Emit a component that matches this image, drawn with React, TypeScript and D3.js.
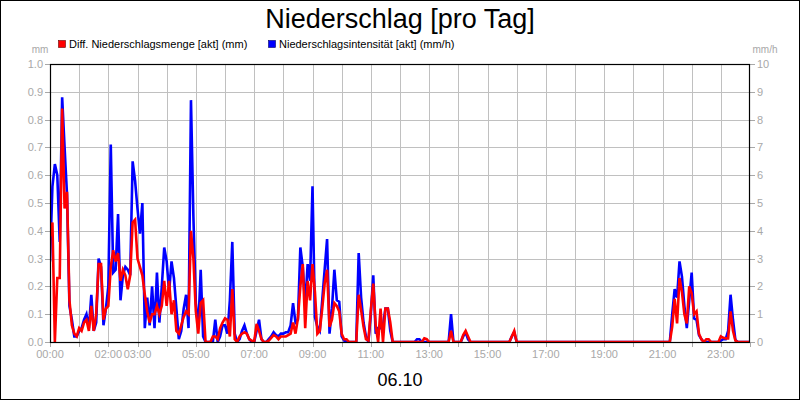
import React from "react";
import * as d3 from "d3";

// 5-minute steps from 00:00 to 24:00, one row per hour
const rainIntensity: number[] = [
  2.9, 5.6, 6.4, 6.0, 3.6, 8.8, 7.0, 5.3, 1.3, 0.8, 0.2, 0.2,
  0.4, 0.5, 0.8, 1.0, 0.5, 1.7, 0.4, 0.7, 3.0, 2.7, 0.6, 1.2,
  2.0, 7.1, 2.5, 2.6, 4.6, 1.5, 2.4, 2.7, 2.6, 2.4, 6.5, 5.8,
  4.8, 3.9, 5.0, 0.5, 1.6, 0.6, 2.0, 0.5, 2.5, 0.7, 2.0, 3.4,
  2.9, 1.8, 2.9, 2.3, 1.2, 0.1, 0.4, 1.2, 1.7, 0.5, 8.7, 4.5,
  1.4, 0.5, 2.6, 0.2, 0, 0, 0, 0, 0.8, 0, 0.2, 0.6,
  0.6, 0.3, 1.5, 3.6, 0.3, 0, 0.1, 0.4, 0.6, 0.3, 0.1, 0,
  0, 0.4, 0.8, 0.1, 0, 0, 0.1, 0.2, 0.35, 0.25, 0.2, 0.3,
  0.3, 0.35, 0.35, 0.6, 1.4, 0.7, 0.8, 3.4, 2.7, 1.3, 2.8, 2.2,
  5.6, 0.9, 0.55, 0.4, 1.5, 2.6, 3.7, 0.3, 1.2, 2.6, 1.5, 1.45,
  0.2, 0.05, 0, 0, 0, 0, 0, 3.2, 1.6, 0.7, 0.2, 0,
  1.0, 2.4, 0.3, 0.5, 0.5, 0.6, 1.2, 1.2, 0.4, 0, 0, 0,
  0, 0, 0, 0, 0, 0, 0, 0.1, 0.1, 0, 0, 0,
  0, 0, 0, 0, 0, 0, 0, 0, 0, 1.0, 0, 0,
  0, 0, 0.2, 0.35, 0.1, 0, 0, 0, 0, 0, 0, 0,
  0, 0, 0, 0, 0, 0, 0, 0, 0, 0, 0.2, 0.35,
  0, 0, 0, 0, 0, 0, 0, 0, 0, 0, 0, 0,
  0, 0, 0, 0, 0, 0, 0, 0, 0, 0, 0, 0,
  0, 0, 0, 0, 0, 0, 0, 0, 0, 0, 0, 0,
  0, 0, 0, 0, 0, 0, 0, 0, 0, 0, 0, 0,
  0, 0, 0, 0, 0, 0, 0, 0, 0, 0, 0, 0,
  0, 0, 0, 0, 1.0, 1.9, 1.6, 2.9, 2.35, 1.3, 0.5, 1.5,
  2.5, 0.85, 0.8, 0.25, 0.1, 0, 0, 0, 0, 0, 0, 0,
  0.05, 0.1, 0.1, 0.4, 1.7, 0.8, 0.07, 0, 0, 0, 0, 0,
  0,
];

const rainAmount: number[] = [
  0.38, 0.43, 0.0, 0.23, 0.23, 0.84, 0.48, 0.54, 0.15, 0.06, 0.03, 0.02,
  0.05, 0.04, 0.07, 0.08, 0.04, 0.13, 0.04, 0.1, 0.28, 0.28, 0.08, 0.12,
  0.13, 0.27, 0.33, 0.29, 0.32, 0.22, 0.26, 0.24, 0.19, 0.24, 0.43, 0.44,
  0.3, 0.27, 0.24, 0.17, 0.11, 0.07, 0.1, 0.1, 0.13, 0.1, 0.13, 0.22,
  0.13, 0.22, 0.1, 0.15, 0.04, 0.03, 0.06, 0.09, 0.11, 0.1, 0.4, 0.3,
  0.11, 0.03, 0.14, 0.15, 0, 0, 0, 0.02, 0.02, 0.01, 0.05, 0.07,
  0.085, 0.08, 0.02, 0.19, 0.01, 0, 0.02, 0.03, 0.035, 0.03, 0.01, 0.005,
  0, 0.065, 0.04, 0.01, 0, 0, 0.005, 0.015, 0.025, 0.02, 0.01, 0.02,
  0.02, 0.02, 0.025, 0.03, 0.07, 0.03, 0.085, 0.2, 0.28, 0.05, 0.22, 0.15,
  0.28, 0.18, 0.03, 0.04, 0.12, 0.21, 0.26, 0.055, 0.08, 0.14, 0.13, 0.11,
  0.03, 0.01, 0.01, 0, 0, 0, 0, 0.17, 0.115, 0.055, 0.01, 0.005,
  0.115, 0.21, 0.06, 0.0, 0.12, 0.0, 0.12, 0.12, 0.07, 0, 0, 0,
  0, 0, 0, 0, 0, 0, 0, 0, 0, 0, 0.013, 0.01,
  0, 0, 0, 0, 0, 0, 0, 0, 0, 0.04, 0, 0,
  0, 0, 0.025, 0.04, 0.02, 0, 0, 0, 0, 0, 0, 0,
  0, 0, 0, 0, 0, 0, 0, 0, 0, 0, 0.02, 0.04,
  0, 0, 0, 0, 0, 0, 0, 0, 0, 0, 0, 0,
  0, 0, 0, 0, 0, 0, 0, 0, 0, 0, 0, 0,
  0, 0, 0, 0, 0, 0, 0, 0, 0, 0, 0, 0,
  0, 0, 0, 0, 0, 0, 0, 0, 0, 0, 0, 0,
  0, 0, 0, 0, 0, 0, 0, 0, 0, 0, 0, 0,
  0, 0, 0, 0, 0.055, 0.155, 0.067, 0.23, 0.18, 0.1, 0.067, 0.2,
  0.175, 0.1, 0.11, 0.03, 0.01, 0, 0.01, 0.01, 0, 0, 0, 0,
  0.02, 0.015, 0.013, 0.013, 0.11, 0.04, 0.005, 0, 0, 0, 0, 0,
  0,
];

const stepMinutes = 5;
const hourTicks: number[] = d3.range(0, 25);
const hourLabels: string[] = ["00:00", "02:00", "03:00", "05:00", "07:00", "09:00", "11:00", "13:00", "15:00", "17:00", "19:00", "21:00", "23:00"];
const leftTicks: number[] = [0, 0.1, 0.2, 0.3, 0.4, 0.5, 0.6, 0.7, 0.8, 0.9, 1.0];
const rightTicks: number[] = [0, 1, 2, 3, 4, 5, 6, 7, 8, 9, 10];
const title = "Niederschlag [pro Tag]";
const dateLabel = "06.10";
const legendItems = [
  { label: "Diff. Niederschlagsmenge [akt] (mm)", color: "#ff0000" },
  { label: "Niederschlagsintensität [akt] (mm/h)", color: "#0000ff" },
];

const FONT = "'Liberation Sans', Arial, sans-serif";
const GRAY = "#a8a8a8";

export default function App() {
  const W = 800, H = 400;
  const left = 50, right = 750, top = 64, bottom = 342;
  const x = d3.scaleLinear().domain([0, 1440]).range([left, right]);
  const yL = d3.scaleLinear().domain([0, 1]).range([bottom, top]);
  const yR = d3.scaleLinear().domain([0, 10]).range([bottom, top]);

  const redLine = d3.line<number>()
    .x((_, i) => x(i * stepMinutes))
    .y((d) => yL(d));
  const blueLine = d3.line<number>()
    .x((_, i) => x(i * stepMinutes))
    .y((d) => yR(d));

  const labelSet = new Set(hourLabels);
  const fmtHour = (h: number) => `${String(h).padStart(2, "0")}:00`;

  return (
    <>
      <style>{`body{margin:0}`}</style>
      <svg width={W} height={H} style={{ display: "block" }} fontFamily={FONT}>
        <rect x={0} y={0} width={W} height={H} fill="#ffffff" />
        <text x={400} y={28} textAnchor="middle" fontSize={27} fill="#000">{title}</text>

        {/* legend */}
        <rect x={58.5} y={40.5} width={7} height={7} fill={legendItems[0].color} stroke="#600" strokeWidth={0.6} />
        <text x={69} y={48} fontSize={11} fill="#000">{legendItems[0].label}</text>
        <rect x={268.5} y={40.5} width={7} height={7} fill={legendItems[1].color} stroke="#006" strokeWidth={0.6} />
        <text x={279} y={48} fontSize={11} fill="#000">{legendItems[1].label}</text>

        <text x={40} y={52.5} fontSize={10} fill={GRAY} textAnchor="middle">mm</text>
        <text x={765} y={52.5} fontSize={10} fill={GRAY} textAnchor="middle">mm/h</text>

        {/* grid */}
        {leftTicks.slice(1, -1).map((v) => (
          <line key={"hg" + v} x1={left} x2={right} y1={Math.round(yL(v)) + 0.5} y2={Math.round(yL(v)) + 0.5} stroke="#c0c0c0" strokeWidth={1} />
        ))}
        {hourTicks.slice(1, -1).map((h) => (
          <line key={"vg" + h} y1={top} y2={bottom} x1={Math.round(x(h * 60)) + 0.5} x2={Math.round(x(h * 60)) + 0.5} stroke="#c0c0c0" strokeWidth={1} />
        ))}

        {/* left axis */}
        {leftTicks.map((v) => (
          <g key={"lt" + v}>
            <line x1={left - 5} x2={left} y1={Math.round(yL(v)) + 0.5} y2={Math.round(yL(v)) + 0.5} stroke={GRAY} />
            <text x={43} y={yL(v) + 4} fontSize={11} fill={GRAY} textAnchor="end">{v.toFixed(1)}</text>
          </g>
        ))}
        {/* right axis */}
        {rightTicks.map((v) => (
          <g key={"rt" + v}>
            <line x1={right} x2={right + 5} y1={Math.round(yR(v)) + 0.5} y2={Math.round(yR(v)) + 0.5} stroke={GRAY} />
            <text x={757} y={yR(v) + 4} fontSize={11} fill={GRAY} textAnchor="start">{v}</text>
          </g>
        ))}
        {/* bottom axis */}
        {hourTicks.map((h) => (
          <g key={"bt" + h}>
            <line y1={bottom} y2={bottom + 5} x1={Math.round(x(h * 60)) + 0.5} x2={Math.round(x(h * 60)) + 0.5} stroke={GRAY} />
            {labelSet.has(fmtHour(h)) && (
              <text x={x(h * 60)} y={358} fontSize={11} fill={GRAY} textAnchor="middle">{fmtHour(h)}</text>
            )}
          </g>
        ))}

        {/* series */}
        <g>
          <clipPath id="plotClip">
            <rect x={left} y={top - 2} width={right - left} height={bottom - top + 2} />
          </clipPath>
          <path d={blueLine(rainIntensity) ?? ""} fill="none" stroke="#0000ff" strokeWidth={2.6} clipPath="url(#plotClip)" />
          <path d={redLine(rainAmount) ?? ""} fill="none" stroke="#ff0000" strokeWidth={2.6} clipPath="url(#plotClip)" />
        </g>

        {/* plot frame */}
        <rect x={left + 0.5} y={top + 0.5} width={right - left - 1} height={bottom - top} fill="none" stroke="#000" strokeWidth={1.2} />

        <text x={400} y={386} textAnchor="middle" fontSize={18} fill="#000">{dateLabel}</text>

        {/* outer frame */}
        <rect x={0.5} y={0.5} width={W - 1} height={H - 1} fill="none" stroke="#000" strokeWidth={1} />
      </svg>
    </>
  );
}
